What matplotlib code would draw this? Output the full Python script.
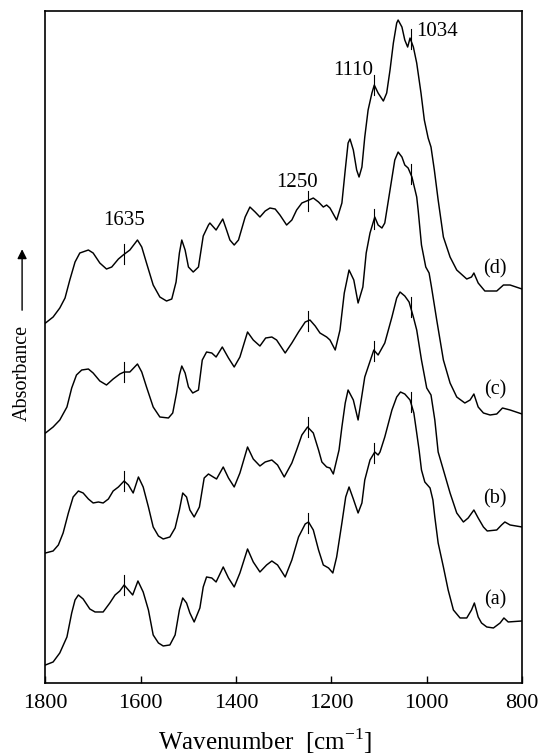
import numpy as np
import matplotlib
matplotlib.use("Agg")
import matplotlib.pyplot as plt

plt.rcParams['font.family'] = ['Liberation Serif', 'DejaVu Serif']
plt.rcParams['mathtext.fontset'] = 'custom'
plt.rcParams['mathtext.rm'] = 'Liberation Serif'

# FT-IR spectra, stacked (absorbance in arbitrary units, offsets included)
wn_a = [1800, 1784, 1770, 1755, 1745, 1738, 1731, 1721, 1707, 1696, 1679, 1665, 1654, 1644, 1635,
        1626, 1617, 1606, 1595, 1584, 1574, 1563, 1553, 1539, 1528, 1519, 1512, 1504, 1497, 1488,
        1476, 1469, 1462, 1451, 1442, 1427, 1416, 1404, 1392, 1376, 1364, 1350, 1336, 1325, 1313,
        1297, 1283, 1269, 1255, 1248, 1238, 1227, 1217, 1206, 1197, 1189, 1178, 1170, 1163, 1154,
        1144, 1136, 1130, 1119, 1109, 1102, 1098, 1088, 1073, 1063, 1055, 1046, 1035, 1027, 1021,
        1016, 1011, 1004, 993, 987, 983, 976, 965, 955, 944, 930, 916, 906, 900, 892,
        885, 874, 860, 846, 838, 829, 800]
abs_a = [0.18, 0.21, 0.30, 0.46, 0.70, 0.83, 0.88, 0.84, 0.74, 0.71, 0.71, 0.80, 0.88, 0.92, 0.98,
         0.93, 0.88, 1.02, 0.91, 0.73, 0.48, 0.40, 0.37, 0.38, 0.48, 0.73, 0.85, 0.80, 0.70, 0.61,
         0.75, 0.96, 1.06, 1.05, 1.01, 1.16, 1.05, 0.96, 1.10, 1.34, 1.21, 1.11, 1.18, 1.22, 1.18,
         1.06, 1.23, 1.46, 1.59, 1.61, 1.53, 1.33, 1.18, 1.15, 1.10, 1.26, 1.60, 1.86, 1.96, 1.84,
         1.70, 1.80, 2.03, 2.23, 2.31, 2.28, 2.31, 2.46, 2.73, 2.86, 2.91, 2.89, 2.83, 2.70, 2.50,
         2.33, 2.13, 2.01, 1.95, 1.83, 1.66, 1.40, 1.16, 0.93, 0.73, 0.65, 0.65, 0.73, 0.80, 0.66,
         0.60, 0.56, 0.55, 0.60, 0.65, 0.61, 0.62]

wn_b = [1800, 1784, 1773, 1763, 1752, 1742, 1731, 1721, 1710, 1700, 1689, 1679, 1668, 1658, 1647,
        1635, 1626, 1616, 1605, 1595, 1584, 1574, 1563, 1553, 1539, 1528, 1519, 1512, 1504, 1497,
        1488, 1477, 1467, 1458, 1448, 1441, 1427, 1416, 1404, 1392, 1376, 1364, 1350, 1339, 1325,
        1313, 1299, 1283, 1273, 1262, 1250, 1238, 1227, 1220, 1210, 1203, 1196, 1189, 1184, 1178,
        1171, 1165, 1154, 1144, 1130, 1111, 1102, 1088, 1073, 1063, 1056, 1046, 1037, 1028, 1021,
        1011, 1000, 991, 983, 976, 965, 951, 937, 923, 913, 901, 892, 881, 873, 853,
        843, 836, 825, 800]
abs_b = [1.30, 1.32, 1.38, 1.50, 1.70, 1.86, 1.92, 1.90, 1.84, 1.80, 1.81, 1.80, 1.84, 1.92, 1.96,
         2.02, 1.98, 1.90, 2.06, 1.96, 1.76, 1.56, 1.47, 1.44, 1.46, 1.55, 1.73, 1.90, 1.86, 1.73,
         1.66, 1.76, 2.05, 2.09, 2.06, 2.04, 2.16, 2.05, 1.96, 2.10, 2.36, 2.24, 2.17, 2.21, 2.23,
         2.18, 2.06, 2.20, 2.33, 2.48, 2.56, 2.50, 2.33, 2.21, 2.16, 2.15, 2.09, 2.23, 2.33, 2.56,
         2.80, 2.93, 2.83, 2.63, 3.06, 3.33, 3.28, 3.40, 3.66, 3.85, 3.91, 3.87, 3.81, 3.66, 3.53,
         3.23, 2.95, 2.88, 2.63, 2.31, 2.13, 1.90, 1.70, 1.61, 1.65, 1.73, 1.65, 1.56, 1.52, 1.53,
         1.58, 1.61, 1.58, 1.56]

wn_c = [1800, 1784, 1770, 1755, 1745, 1735, 1724, 1710, 1700, 1686, 1672, 1658, 1644, 1635, 1623,
        1607, 1598, 1588, 1574, 1560, 1542, 1533, 1525, 1519, 1514, 1507, 1500, 1491, 1479, 1471,
        1462, 1451, 1442, 1429, 1416, 1404, 1392, 1376, 1364, 1350, 1338, 1325, 1315, 1297, 1283,
        1269, 1255, 1245, 1234, 1224, 1210, 1203, 1192, 1182, 1173, 1163, 1153, 1144, 1134, 1127,
        1119, 1109, 1102, 1094, 1088, 1077, 1067, 1060, 1052, 1046, 1039, 1031, 1021, 1018, 1011,
        1002, 995, 990, 979, 965, 951, 937, 920, 909, 901, 892, 881, 867, 853, 841,
        825, 800]
abs_c = [2.50, 2.56, 2.63, 2.76, 2.95, 3.08, 3.13, 3.14, 3.10, 3.02, 2.98, 3.04, 3.09, 3.11, 3.11,
         3.19, 3.11, 2.96, 2.76, 2.66, 2.65, 2.70, 2.90, 3.08, 3.17, 3.10, 2.96, 2.90, 2.93, 3.23,
         3.31, 3.30, 3.26, 3.36, 3.25, 3.16, 3.26, 3.51, 3.43, 3.37, 3.45, 3.46, 3.43, 3.30, 3.40,
         3.51, 3.61, 3.63, 3.57, 3.50, 3.46, 3.43, 3.33, 3.53, 3.90, 4.13, 4.03, 3.80, 3.96, 4.30,
         4.50, 4.66, 4.58, 4.55, 4.60, 4.93, 5.23, 5.31, 5.26, 5.18, 5.15, 5.06, 4.86, 4.73, 4.38,
         4.16, 4.10, 3.96, 3.63, 3.23, 3.00, 2.86, 2.80, 2.83, 2.89, 2.76, 2.70, 2.68, 2.69, 2.75,
         2.73, 2.69]

wn_d = [1800, 1784, 1770, 1759, 1749, 1738, 1728, 1710, 1700, 1686, 1672, 1661, 1647, 1637, 1623,
        1607, 1598, 1588, 1574, 1560, 1546, 1535, 1526, 1519, 1514, 1507, 1500, 1490, 1479, 1469,
        1458, 1455, 1442, 1428, 1420, 1413, 1404, 1395, 1381, 1371, 1360, 1350, 1339, 1329, 1318,
        1308, 1294, 1283, 1273, 1262, 1247, 1238, 1227, 1217, 1210, 1203, 1189, 1178, 1171, 1165,
        1161, 1154, 1147, 1142, 1136, 1130, 1123, 1115, 1110, 1102, 1091, 1084, 1077, 1070, 1063,
        1060, 1052, 1046, 1040, 1035, 1028, 1021, 1012, 1005, 997, 991, 984, 976, 965, 951,
        937, 916, 906, 901, 892, 878, 853, 839, 825, 800]
abs_d = [3.60, 3.66, 3.75, 3.85, 4.03, 4.21, 4.30, 4.33, 4.30, 4.20, 4.14, 4.16, 4.24, 4.28, 4.33,
         4.43, 4.36, 4.20, 3.98, 3.86, 3.82, 3.84, 4.01, 4.30, 4.43, 4.33, 4.16, 4.11, 4.16, 4.47,
         4.58, 4.60, 4.53, 4.64, 4.53, 4.43, 4.38, 4.43, 4.66, 4.76, 4.71, 4.66, 4.72, 4.75, 4.74,
         4.68, 4.58, 4.63, 4.73, 4.80, 4.83, 4.85, 4.81, 4.76, 4.78, 4.75, 4.63, 4.80, 5.13, 5.40,
         5.44, 5.33, 5.13, 5.06, 5.16, 5.46, 5.73, 5.90, 5.98, 5.90, 5.82, 5.90, 6.13, 6.40, 6.60,
         6.63, 6.56, 6.43, 6.36, 6.45, 6.36, 6.20, 5.90, 5.63, 5.45, 5.36, 5.13, 4.83, 4.46, 4.26,
         4.13, 4.04, 4.06, 4.10, 4.00, 3.92, 3.92, 3.98, 3.98, 3.94]

labels = ['(a)', '(b)', '(c)', '(d)']
label_y = [0.83, 1.84, 2.93, 4.14]
band_pos = [1635, 1250, 1110, 1034]
xticks = [1800, 1600, 1400, 1200, 1000, 800]

fig = plt.figure(figsize=(5.39, 7.56), dpi=100)
ax = fig.add_axes([0.0844, 0.0966, 0.8841, 0.8888])

spectra = [(wn_a, abs_a), (wn_b, abs_b), (wn_c, abs_c), (wn_d, abs_d)]
for (wn, ab), lab, ly in zip(spectra, labels, label_y):
    wn = np.array(wn)
    ab = np.array(ab)
    ax.plot(wn, ab, color='black', lw=1.05, solid_joinstyle='round')
    # short vertical bars marking the bands
    for b in band_pos:
        yb = np.interp(b, wn[::-1], ab[::-1])
        ax.plot([b, b], [yb - 0.10, yb + 0.10], color='black', lw=0.8)
    ax.text(857, ly, lab, fontsize=14.5, ha='center', va='center')

# band assignments written on top spectrum
ax.text(1636, 4.63, '1635', fontsize=15, ha='center', va='center')
ax.text(1273, 5.01, '1250', fontsize=15, ha='center', va='center')
ax.text(1154, 6.13, '1110', fontsize=15, ha='center', va='center')
ax.text(978, 6.52, '1034', fontsize=15, ha='center', va='center')

ax.set_xlim(1800, 800)
ax.set_ylim(0, 6.72)
ax.set_xticks(xticks)
ax.set_xticklabels([str(t) for t in xticks])
ax.set_yticks([])
ax.tick_params(axis='x', direction='in', length=5, width=1, labelsize=16, pad=8)
for s in ax.spines.values():
    s.set_linewidth(1.2)

ax.set_xlabel(r'Wavenumber  [cm$^{\mathregular{-1}}$]', fontsize=18)
ax.xaxis.set_label_coords(0.461, -0.064)

fig.text(0.041, 0.507, 'Absorbance', rotation=90, fontsize=14.5, ha='center', va='center')
fig.patches.append(matplotlib.patches.FancyArrowPatch(
    (0.041, 0.586), (0.041, 0.674), transform=fig.transFigure,
    arrowstyle='-|>', mutation_scale=14, lw=1.0, color='black'))

fig.savefig('out.png', dpi=100)
